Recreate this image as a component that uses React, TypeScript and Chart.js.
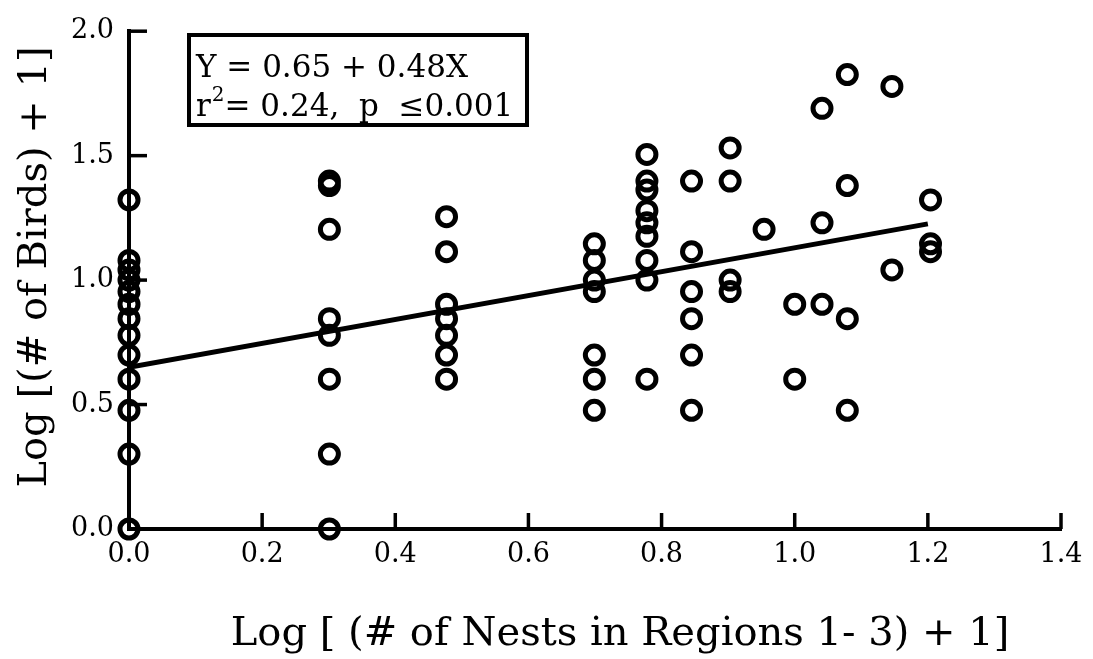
import React, { useEffect, useRef } from "react";
import { Chart, registerables } from "chart.js";

Chart.register(...registerables);

// Log[(# of nests in regions 1-3) + 1] — one x value per column of points
const nestLogX = [0, 0.301, 0.477, 0.699, 0.778, 0.845, 0.903, 0.954, 1.0, 1.041, 1.079, 1.146, 1.204];
// Log[(# of birds) + 1] — the points that sit in each column above
const birdsAtX0 = [1.322, 1.079, 1.041, 1.0, 0.954, 0.903, 0.845, 0.778, 0.699, 0.602, 0.477, 0.301, 0];
const birdsAtX1 = [1.398, 1.38, 1.204, 0.845, 0.778, 0.602, 0.301, 0];
const birdsAtX2 = [1.255, 1.114, 0.903, 0.845, 0.778, 0.699, 0.602];
const birdsAtX3 = [1.146, 1.079, 1.0, 0.954, 0.699, 0.602, 0.477];
const birdsAtX4 = [1.505, 1.398, 1.362, 1.279, 1.23, 1.176, 1.079, 1.0, 0.602];
const birdsAtX5 = [1.398, 1.114, 0.954, 0.845, 0.699, 0.477];
const birdsAtX6 = [1.531, 1.398, 1.0, 0.954];
const birdsAtX7 = [1.204];
const birdsAtX8 = [0.903, 0.602];
const birdsAtX9 = [1.69, 1.23, 0.903];
const birdsAtX10 = [1.826, 1.38, 0.845, 0.477];
const birdsAtX11 = [1.778, 1.041];
const birdsAtX12 = [1.322, 1.146, 1.114];
const birdColumns = [
  birdsAtX0, birdsAtX1, birdsAtX2, birdsAtX3, birdsAtX4, birdsAtX5, birdsAtX6,
  birdsAtX7, birdsAtX8, birdsAtX9, birdsAtX10, birdsAtX11, birdsAtX12,
];

// Regression line end points
const regLineX = [0, 1.2];
const regLineY = [0.65, 1.226];

const xTickValues = [0, 0.2, 0.4, 0.6, 0.8, 1.0, 1.2, 1.4];
const yTickValues = [0, 0.5, 1.0, 1.5, 2.0];

const xTitle = "Log [ (# of Nests in Regions 1- 3) + 1]";
const yTitle = "Log [(# of Birds) + 1]";
const eqText = "Y = 0.65 + 0.48X";
const statPre = "r";
const statSup = "2";
const statPost = "= 0.24,  p  \u22640.001";

const FONT = "'DejaVu Serif', serif";

export default function App() {
  const ref = useRef<HTMLCanvasElement | null>(null);

  useEffect(() => {
    const canvas = ref.current;
    if (!canvas) return;

    const points: { x: number; y: number }[] = [];
    nestLogX.forEach((x, i) => {
      birdColumns[i].forEach((y) => points.push({ x, y }));
    });
    const regLine = regLineX.map((x, i) => ({ x, y: regLineY[i] }));

    const decor = {
      id: "decor",
      afterDraw(chart: any) {
        const ctx = chart.ctx;
        const xs = chart.scales.x;
        const ys = chart.scales.y;
        const area = chart.chartArea;
        ctx.save();
        ctx.strokeStyle = "#000";
        ctx.fillStyle = "#000";
        ctx.lineWidth = 3.5;
        ctx.lineCap = "butt";
        // inward tick marks
        xTickValues.forEach((v) => {
          if (v === 0) return;
          const px = xs.getPixelForValue(v);
          ctx.beginPath();
          ctx.moveTo(px, area.bottom);
          ctx.lineTo(px, area.bottom - 16);
          ctx.stroke();
        });
        yTickValues.forEach((v) => {
          if (v === 0) return;
          const py = ys.getPixelForValue(v);
          ctx.beginPath();
          ctx.moveTo(area.left, py);
          ctx.lineTo(area.left + 18, py);
          ctx.stroke();
        });

        // equation box
        ctx.lineWidth = 4;
        ctx.strokeRect(189, 35, 338, 90);
        ctx.textAlign = "left";
        ctx.textBaseline = "alphabetic";
        ctx.font = `31px ${FONT}`;
        ctx.fillText(eqText, 196, 77);
        let tx = 196;
        ctx.fillText(statPre, tx, 116);
        tx += ctx.measureText(statPre).width + 1;
        ctx.font = `20px ${FONT}`;
        ctx.fillText(statSup, tx, 101);
        tx += ctx.measureText(statSup).width;
        ctx.font = `31px ${FONT}`;
        ctx.fillText(statPost, tx, 116);

        // axis titles
        ctx.font = `40px ${FONT}`;
        ctx.textAlign = "center";
        ctx.fillText(xTitle, 620, 645);
        ctx.save();
        ctx.translate(46, 267);
        ctx.rotate(-Math.PI / 2);
        ctx.font = `40px ${FONT}`;
        ctx.fillText(yTitle, 0, 0);
        ctx.restore();
        ctx.restore();
      },
    };

    const chart = new Chart(canvas, {
      type: "scatter",
      data: {
        datasets: [
          {
            type: "line",
            data: regLine,
            borderColor: "#000",
            borderWidth: 5,
            pointRadius: 0,
            fill: false,
            order: 1,
          } as any,
          {
            type: "scatter",
            data: points,
            pointStyle: "circle",
            pointRadius: 9,
            pointBorderWidth: 5,
            borderWidth: 5,
            borderColor: "#000",
            backgroundColor: "rgba(0,0,0,0)",
            pointBackgroundColor: "rgba(0,0,0,0)",
            clip: false,
            order: 0,
          } as any,
        ],
      },
      options: {
        animation: false,
        responsive: false,
        layout: { padding: { top: 22, right: 32, left: 0, bottom: 0 } },
        plugins: { legend: { display: false }, tooltip: { enabled: false } },
        scales: {
          x: {
            type: "linear",
            min: 0,
            max: 1.4,
            afterBuildTicks: (s: any) => {
              s.ticks = xTickValues.map((v) => ({ value: v }));
            },
            afterFit: (s: any) => {
              s.height = 130;
            },
            grid: { display: true, drawOnChartArea: false, drawTicks: false, color: "rgba(0,0,0,0)" },
            border: { display: true, color: "#000", width: 4 },
            ticks: {
              padding: 10,
              color: "#000",
              font: { family: FONT, size: 27 },
              maxRotation: 0,
              autoSkip: false,
              callback: (v: any) => Number(v).toFixed(1),
            },
          },
          y: {
            type: "linear",
            min: 0,
            max: 2,
            afterBuildTicks: (s: any) => {
              s.ticks = yTickValues.map((v) => ({ value: v }));
            },
            afterFit: (s: any) => {
              s.width = 129;
            },
            grid: { display: true, drawOnChartArea: false, drawTicks: false, color: "rgba(0,0,0,0)" },
            border: { display: true, color: "#000", width: 4 },
            ticks: {
              padding: 15,
              color: "#000",
              font: { family: FONT, size: 27 },
              autoSkip: false,
              callback: (v: any) => Number(v).toFixed(1),
            },
          },
        },
      },
      plugins: [decor],
    });

    return () => chart.destroy();
  }, []);

  return (
    <div style={{ position: "fixed", left: 0, top: 0, width: 1093, height: 659, background: "#fff" }}>
      <canvas ref={ref} width={1093} height={659} />
    </div>
  );
}
